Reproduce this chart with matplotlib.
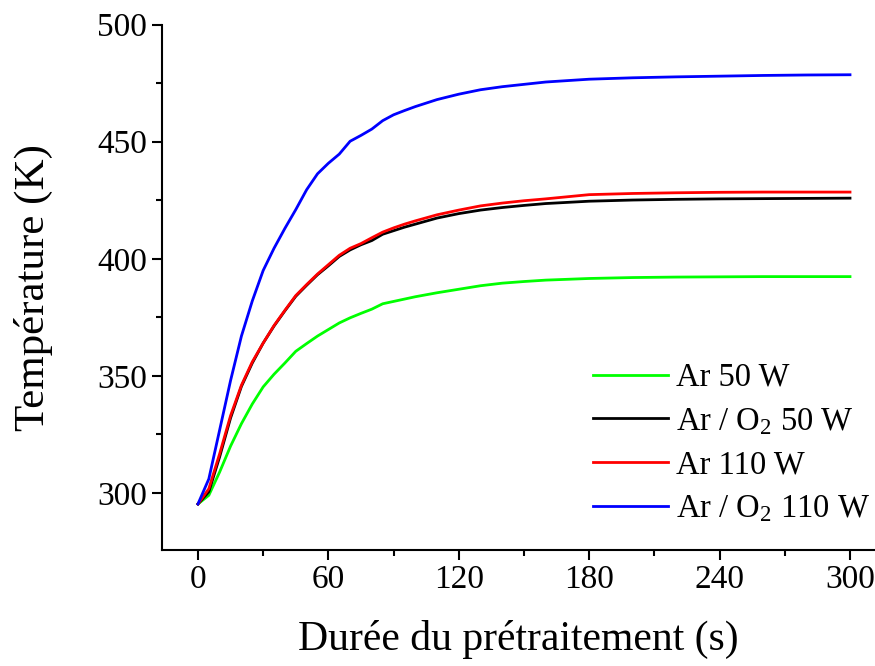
import matplotlib
matplotlib.use("Agg")
import matplotlib.pyplot as plt
from matplotlib.ticker import MultipleLocator

plt.rcParams["font.family"] = ["Liberation Serif", "DejaVu Serif"]
plt.rcParams["mathtext.fontset"] = "custom"
plt.rcParams["mathtext.rm"] = "Liberation Serif"
plt.rcParams["mathtext.it"] = "Liberation Serif:italic"

# temps (s)
t = [0, 5, 10, 15, 20, 25, 30, 35, 40, 45, 50, 55, 60, 65, 70, 75, 80, 85, 90, 95,
     100, 110, 120, 130, 140, 150, 160, 180, 200, 220, 240, 260, 280, 300]

ar_50 = [295.3, 299, 309, 320, 329.6, 338, 345.3, 350.7, 355.5, 360.5, 363.8, 367,
         369.8, 372.6, 374.8, 376.7, 378.5, 380.8, 381.8, 382.8, 383.8, 385.5, 387,
         388.5, 389.6, 390.3, 390.9, 391.6, 392, 392.2, 392.3, 392.4, 392.4, 392.4]
ar_o2_50 = [295.3, 300.5, 315.5, 332, 345.5, 355.5, 364, 371.3, 377.8, 384, 388.7,
            393.2, 397, 401, 403.8, 406, 407.8, 410.5, 412, 413.5, 414.8, 417.4,
            419.3, 420.8, 421.9, 422.8, 423.6, 424.6, 425.1, 425.4, 425.6, 425.7,
            425.8, 425.9]
ar_110 = [295.3, 301.8, 316.8, 333, 346, 356, 364, 371.5, 378, 384.3, 389, 393.5,
          397.5, 401.5, 404.5, 406.5, 409, 411.4, 413.2, 414.8, 416.2, 418.8, 420.8,
          422.6, 423.8, 424.8, 425.6, 427.4, 427.9, 428.2, 428.4, 428.5, 428.5, 428.5]
ar_o2_110 = [295.3, 306, 327, 348, 367, 382, 395, 404.5, 413, 421, 429.5, 436.3,
             440.8, 444.7, 450.2, 452.7, 455.4, 459, 461.5, 463.3, 465, 468, 470.3,
             472.2, 473.5, 474.5, 475.5, 476.7, 477.3, 477.7, 478, 478.3, 478.5, 478.6]

fig = plt.figure(figsize=(8.75, 6.66), dpi=100)
ax = fig.add_axes([0.185, 0.174, 0.815, 0.789])

ax.plot(t, ar_50, color="#00ff00", lw=2, label="Ar 50 W")
ax.plot(t, ar_o2_50, color="black", lw=2, label="Ar / O$_2$ 50 W")
ax.plot(t, ar_110, color="red", lw=2, label="Ar 110 W")
ax.plot(t, ar_o2_110, color="blue", lw=2, label="Ar / O$_2$ 110 W")

ax.set_xlim(-16.6, 311.5)
ax.set_ylim(275.6, 500)
ax.xaxis.set_major_locator(MultipleLocator(60))
ax.xaxis.set_minor_locator(MultipleLocator(30))
ax.yaxis.set_major_locator(MultipleLocator(50))
ax.yaxis.set_minor_locator(MultipleLocator(25))

for side in ["top", "right"]:
    ax.spines[side].set_visible(False)
for side in ["left", "bottom"]:
    ax.spines[side].set_linewidth(1.5)

ax.tick_params(which="major", direction="out", length=7, width=1.5, labelsize=24)
ax.tick_params(which="minor", direction="out", length=4, width=1.5)

ax.set_xlabel("Durée du prétraitement (s)", fontsize=30, labelpad=18)
ax.set_ylabel("Température (K)", fontsize=31, labelpad=32)

ax.legend(loc="lower right", bbox_to_anchor=(1.02, 0.012), frameon=False, fontsize=23.5,
          handlelength=2.27, handletextpad=0.25, labelspacing=0.4, borderaxespad=0.2)

fig.savefig("out.png", dpi=100)
